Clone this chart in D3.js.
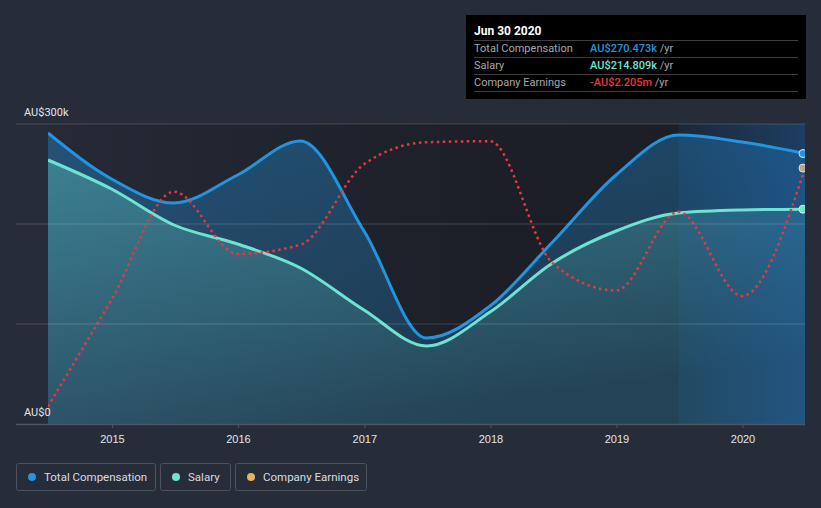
<!DOCTYPE html>
<html><head><meta charset="utf-8">
<script src="https://cdn.jsdelivr.net/npm/d3@7"></script>
<style>
html,body{margin:0;padding:0;background:#262c38;}
svg{display:block;font-family:Roboto,"Open Sans",sans-serif;}
</style></head>
<body><svg id="c" width="821" height="508"></svg>
<script>
// ---- data ----
const dates = ["2014-06-30","2014-12-31","2015-06-30","2015-12-31","2016-06-30","2016-12-31","2017-06-30","2017-12-31","2018-06-30","2018-12-31","2019-06-30","2019-12-31","2020-06-30"];
const totalComp = [291, 245, 221, 249, 283, 193, 86, 118, 182, 249, 289, 282, 270.473]; // AU$k
const salary = [264, 235, 199, 180, 156, 114, 78, 112, 161, 193, 211, 214, 214.809];      // AU$k
const earnings = [-8.72, -5.8, -2.85, -4.55, -4.3, -2.1, -1.5, -1.47, -4.8, -5.55, -3.4, -5.7, -2.205]; // AU$m
const yearTicks = ["2015","2016","2017","2018","2019","2020"];
const yTickLabels = ["AU$0","AU$300k"];
const legendItems = ["Total Compensation","Salary","Company Earnings"];
const tooltipTitle = "Jun 30 2020";
const tooltipRows = [["Total Compensation","AU$270.473k"," /yr"],["Salary","AU$214.809k"," /yr"],["Company Earnings","-AU$2.205m"," /yr"]];

const colors = {tc:"#2394df", sal:"#6fe3d2", earn:"#e8383f", earnDot:"#e8b05a"};
const parse = d3.timeParse("%Y-%m-%d");
const pts = dates.map((d,i)=>({d:parse(d), tc:totalComp[i], sal:salary[i], e:earnings[i]}));

const svg = d3.select("#c");
const L=48, R=805, T=124, B=424;
const x = d3.scaleTime().domain([parse(dates[0]), parse(dates[dates.length-1])]).range([L,R]);
const y = d3.scaleLinear().domain([0,300]).range([B,T]);
const y2 = d3.scaleLinear().domain([-9.2,-1.0]).range([B,T]);

const defs = svg.append("defs");
const bgG = defs.append("linearGradient").attr("id","bgG").attr("x1","0").attr("x2","1").attr("y1","0").attr("y2","0");
bgG.append("stop").attr("offset","0").attr("stop-color","#252a36");
bgG.append("stop").attr("offset","0.6").attr("stop-color","#1c1f27");
bgG.append("stop").attr("offset","1").attr("stop-color","#1b1e25");
const tcG = defs.append("linearGradient").attr("id","tcG").attr("x1","0").attr("x2","0.3").attr("y1","0").attr("y2","1");
tcG.append("stop").attr("offset","0").attr("stop-color","#2394df").attr("stop-opacity",0.38);
tcG.append("stop").attr("offset","1").attr("stop-color","#2394df").attr("stop-opacity",0.2);
const salG = defs.append("linearGradient").attr("id","salG").attr("x1","0").attr("x2","0.4").attr("y1","0").attr("y2","1");
salG.append("stop").attr("offset","0").attr("stop-color","#6fe3d2").attr("stop-opacity",0.32);
salG.append("stop").attr("offset","1").attr("stop-color","#6fe3d2").attr("stop-opacity",0.08);
const hiG = defs.append("linearGradient").attr("id","hiG").attr("x1","0").attr("x2","1").attr("y1","0").attr("y2","0");
hiG.append("stop").attr("offset","0").attr("stop-color","#1f6fc0").attr("stop-opacity",0.12);
hiG.append("stop").attr("offset","1").attr("stop-color","#1f6fc0").attr("stop-opacity",0.4);
defs.append("clipPath").attr("id","clip").append("rect").attr("x",L).attr("y",0).attr("width",R-L).attr("height",B);

// plot background
svg.append("rect").attr("x",L).attr("y",T).attr("width",R-L).attr("height",B-T).attr("fill","url(#bgG)");

const g = svg.append("g").attr("clip-path","url(#clip)");
const curve = d3.curveMonotoneX;
g.append("path").datum(pts).attr("fill","url(#tcG)")
  .attr("d", d3.area().curve(curve).x(d=>x(d.d)).y0(B).y1(d=>y(d.tc)));
g.append("path").datum(pts).attr("fill","url(#salG)")
  .attr("d", d3.area().curve(curve).x(d=>x(d.d)).y0(B).y1(d=>y(d.sal)));

// highlight last period
g.append("rect").attr("x",x(parse("2019-06-30"))).attr("y",T).attr("width",R-x(parse("2019-06-30"))).attr("height",B-T).attr("fill","url(#hiG)");

// gridlines
[100,200,300].forEach(v=>{
  svg.append("line").attr("x1",16).attr("x2",R).attr("y1",y(v)).attr("y2",y(v))
    .attr("stroke","#ffffff").attr("stroke-opacity",0.16).attr("stroke-width",1);
});

g.append("path").datum(pts).attr("fill","none").attr("stroke",colors.sal).attr("stroke-width",3)
  .attr("d", d3.line().curve(curve).x(d=>x(d.d)).y(d=>y(d.sal)));
g.append("path").datum(pts).attr("fill","none").attr("stroke",colors.tc).attr("stroke-width",3)
  .attr("d", d3.line().curve(curve).x(d=>x(d.d)).y(d=>y(d.tc)));
g.append("path").datum(pts).attr("fill","none").attr("stroke",colors.earn).attr("stroke-width",2.5)
  .attr("stroke-dasharray","2.5,3.5")
  .attr("d", d3.line().curve(curve).x(d=>x(d.d)).y(d=>y2(d.e)));

// end markers
const last = pts[pts.length-1];
const mx = x(last.d)-2;
[[y(last.tc),colors.tc],[y2(last.e),"#c9a27a"],[y(last.sal),colors.sal]].forEach(([cy,c])=>{
  g.append("circle").attr("cx",mx).attr("cy",cy).attr("r",4).attr("fill",c).attr("stroke","#dfe6ee").attr("stroke-width",1);
});

// x axis
const xAxis = d3.axisBottom(x).tickValues(yearTicks.map(t=>parse(t+"-01-01"))).tickFormat(d3.timeFormat("%Y")).tickSize(4).tickPadding(7);
const ax = svg.append("g").attr("transform",`translate(0,${B})`).call(xAxis);
ax.select(".domain").remove();
ax.selectAll(".tick line").attr("stroke","#4e5564");
ax.selectAll(".tick text").attr("fill","#e3e6ea").attr("font-size",11);
svg.append("line").attr("x1",16).attr("x2",R).attr("y1",B+0.5).attr("y2",B+0.5).attr("stroke","#4e5564").attr("stroke-width",1.5);

// y labels
svg.append("text").attr("x",24).attr("y",y(300)-8).attr("fill","#e3e6ea").attr("font-size",11).text(yTickLabels[1]);
svg.append("text").attr("x",24).attr("y",y(0)-8).attr("fill","#e3e6ea").attr("font-size",11).text(yTickLabels[0]);

// tooltip
const tt = svg.append("g");
tt.append("rect").attr("x",466).attr("y",15).attr("width",340).attr("height",84).attr("fill","#000000");
tt.append("text").attr("x",474).attr("y",35).attr("fill","#ffffff").attr("font-size",12).attr("font-weight","bold").text(tooltipTitle);
[40,57,74,91].forEach(ly=>tt.append("line").attr("x1",474).attr("x2",798).attr("y1",ly+0.5).attr("y2",ly+0.5).attr("stroke","#3e3e3e"));
const valColors=[colors.tc,colors.sal,colors.earn];
tooltipRows.forEach((r,i)=>{
  const by = 52+17*i;
  tt.append("text").attr("x",474).attr("y",by).attr("fill","#a6a8ab").attr("font-size",11).text(r[0]);
  const t = tt.append("text").attr("x",590).attr("y",by).attr("font-size",11);
  t.append("tspan").attr("fill",valColors[i]).attr("font-weight","500").text(r[1]);
  t.append("tspan").attr("fill","#a6a8ab").text(r[2]);
});

// legend
const legX=[16,160,235], legW=[139,70,131], legC=[colors.tc,colors.sal,colors.earnDot];
legendItems.forEach((name,i)=>{
  const lg = svg.append("g");
  lg.append("rect").attr("x",legX[i]+0.5).attr("y",463.5).attr("width",legW[i]).attr("height",27).attr("rx",2)
    .attr("fill","none").attr("stroke","#4a5161");
  lg.append("circle").attr("cx",legX[i]+16).attr("cy",477).attr("r",4).attr("fill",legC[i]);
  lg.append("text").attr("x",legX[i]+28).attr("y",481).attr("fill","#d9dce0").attr("font-size",11.5).text(name);
});
</script></body></html>
